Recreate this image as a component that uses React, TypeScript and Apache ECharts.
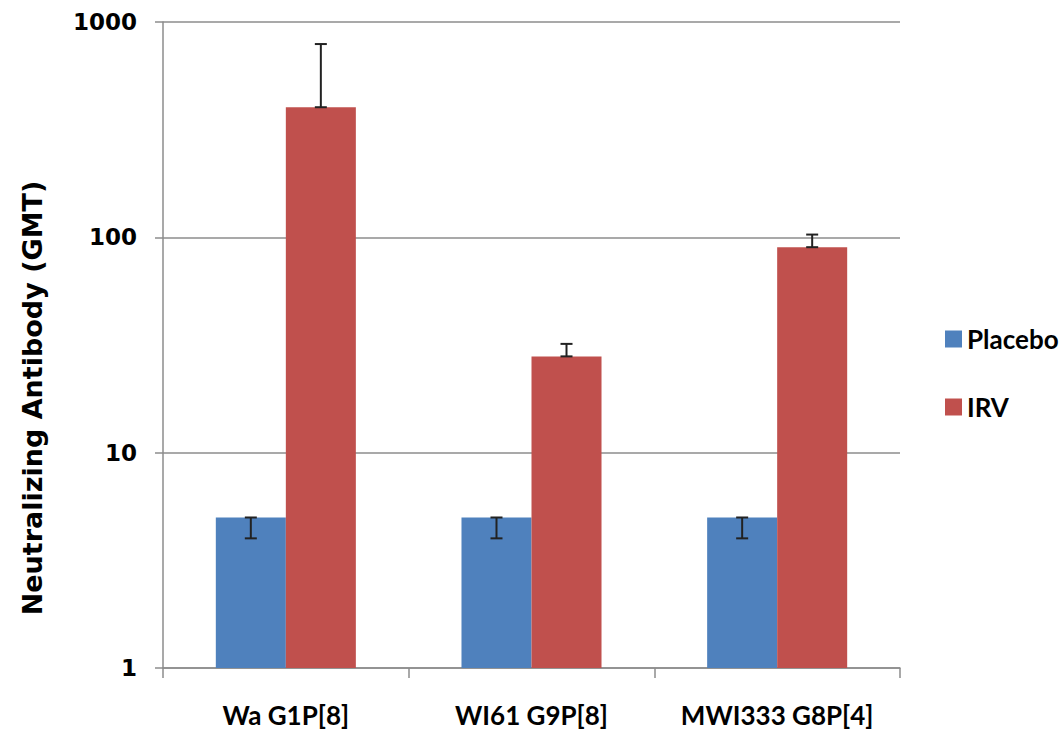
import React, { useEffect, useRef } from "react";
import * as echarts from "echarts";

const categories = ["Wa G1P[8]", "WI61 G9P[8]", "MWI333 G8P[4]"];
const placebo = [5, 5, 5];
const placeboLower = [4, 4, 4];
const irv = [402, 28, 90];
const irvUpper = [790, 32, 103];
const yTicks = [1, 10, 100, 1000];
const yTitle = "Neutralizing Antibody (GMT)";

const BLUE = "#4F81BD";
const RED = "#C0504D";
const GAP = 0.43;

export default function App() {
  const ref = useRef<HTMLDivElement>(null);

  useEffect(() => {
    if (!ref.current) return;
    const chart = echarts.init(ref.current, null, { renderer: "svg" });

    // error bars: [category, from, to, side] where side -1 = placebo, +1 = IRV
    const errData: number[][] = [];
    categories.forEach((_, i) => {
      errData.push([i, placebo[i], placeboLower[i], -1]);
      errData.push([i, irv[i], irvUpper[i], 1]);
    });

    chart.setOption({
      animation: false,
      textStyle: { fontFamily: "Lato" },
      grid: { left: 163, right: 160, top: 22, bottom: 64 },
      graphic: [
        {
          type: "text",
          x: 32,
          y: 398,
          rotation: Math.PI / 2,
          style: {
            text: yTitle,
            fontSize: 27,
            fontWeight: "bold",
            fontFamily: "DejaVu Sans",
            fill: "#000",
            align: "center",
            verticalAlign: "middle",
          },
        },
      ],
      legend: {
        orient: "vertical",
        left: 940,
        top: 321,
        itemWidth: 17,
        itemHeight: 17,
        itemGap: 42,
        icon: "rect",
        textStyle: { fontSize: 26, fontWeight: "bold", color: "#000", fontFamily: "Lato" },
        data: ["Placebo", "IRV"],
      },
      xAxis: {
        type: "category",
        data: categories,
        axisLine: { lineStyle: { color: "#8c8c8c", width: 1.5 } },
        axisTick: { show: true, length: 10, lineStyle: { color: "#8c8c8c", width: 1.5 } },
        axisLabel: {
          interval: 0,
          fontSize: 26,
          color: "#000",
          margin: 34,
          fontFamily: "Lato",
          fontWeight: "bold",
        },
      },
      yAxis: {
        type: "log",
        logBase: 10,
        min: 1,
        max: 1000,
        axisLine: { show: true, lineStyle: { color: "#8c8c8c", width: 1.5 } },
        axisTick: { show: true, length: 8, lineStyle: { color: "#8c8c8c", width: 1.5 } },
        minorTick: { show: false },
        splitLine: { show: true, lineStyle: { color: "#8c8c8c", width: 1.5 } },
        axisLabel: {
          fontSize: 23,
          fontWeight: "bold",
          color: "#000",
          margin: 26,
          fontFamily: "DejaVu Sans",
          formatter: (v: number) => (yTicks.includes(Math.round(v)) ? String(Math.round(v)) : ""),
        },
      },
      series: [
        {
          name: "Placebo",
          type: "bar",
          data: placebo,
          barGap: "0%",
          barCategoryGap: GAP * 100 + "%",
          itemStyle: { color: BLUE },
        },
        {
          name: "IRV",
          type: "bar",
          data: irv,
          barGap: "0%",
          barCategoryGap: GAP * 100 + "%",
          itemStyle: { color: RED },
        },
        {
          type: "custom",
          silent: true,
          data: errData,
          z: 10,
          renderItem: (params: any, api: any) => {
            const band = api.size([1, 1])[0];
            const offset = (band * (1 - GAP)) / 4;
            const side = api.value(3);
            const p1 = api.coord([api.value(0), api.value(1)]);
            const p2 = api.coord([api.value(0), api.value(2)]);
            const x = p1[0] + side * offset;
            const cap = 6;
            const style = { stroke: "#222", lineWidth: 2 };
            return {
              type: "group",
              children: [
                { type: "line", shape: { x1: x, y1: p1[1], x2: x, y2: p2[1] }, style },
                { type: "line", shape: { x1: x - cap, y1: p1[1], x2: x + cap, y2: p1[1] }, style },
                { type: "line", shape: { x1: x - cap, y1: p2[1], x2: x + cap, y2: p2[1] }, style },
              ],
            };
          },
        },
      ],
    });

    return () => chart.dispose();
  }, []);

  return <div ref={ref} style={{ width: 1060, height: 732, position: "absolute", left: 0, top: 0 }} />;
}
